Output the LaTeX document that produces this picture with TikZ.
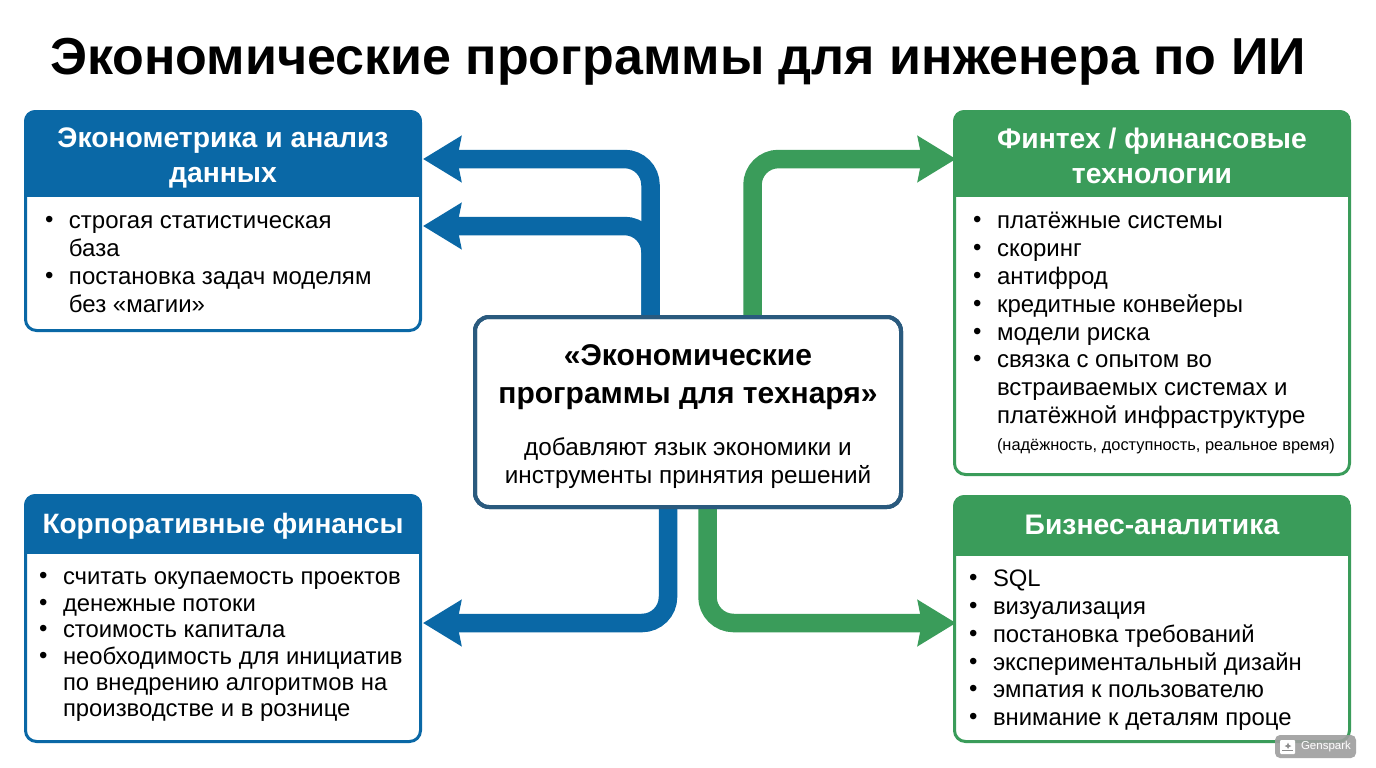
\documentclass[tikz,border=0pt]{standalone}
\usepackage{fontspec}
\setmainfont{Liberation Sans}
\usetikzlibrary{arrows.meta}
\definecolor{bluec}{HTML}{0A68A6}
\definecolor{greenc}{HTML}{3A9C5A}
\definecolor{darkc}{HTML}{2A5A7E}
\newcommand{\fs}[2]{\fontsize{#1}{#2}\selectfont}
\newcommand{\bl}[1]{\makebox[24pt][l]{\raisebox{1pt}{\fontsize{24}{24}\selectfont•}}#1}
\newcommand{\ct}[1]{\hspace*{24pt}#1}
\newcommand{\headfill}[5]{\begin{scope}\clip[rounded corners=11pt] (#2,#3) rectangle (#4,#5+40);\fill[#1] (#2,#3) rectangle (#4,#5);\end{scope}}
\tikzset{
 x=1pt,y=-1pt,
 every node/.style={outer sep=0pt},
 panel/.style={draw=#1,line width=3pt,fill=white,rounded corners=11pt,anchor=north west,inner sep=0pt,minimum width=395pt},
 headtxt/.style={text=white,font=\bfseries\fs{28.3}{35},align=center,anchor=center},
 bodytxt/.style={text=black,align=left,anchor=north west,inner sep=0pt},
 conn/.style={draw=#1,line width=18.5pt,rounded corners=26pt,-{Stealth[length=38pt,width=45pt,inset=4pt]}},
}
\begin{document}
\begin{tikzpicture}
\useasboundingbox[fill=white] (0,0) rectangle (1376,768);
\node[anchor=center,text=black,font=\bfseries\fs{52}{56}] (title) at (678,62) {Экономические программы для инженера по ИИ};

% panels
\node[panel=bluec,minimum height=219pt] (ecm) at (25.5,111.5) {};
\node[panel=greenc,minimum height=363pt] (fin) at (954.5,111.5) {};
\node[panel=bluec,minimum height=246pt] (corp) at (25.5,495.5) {};
\node[panel=greenc,minimum height=245pt] (bus) at (954.5,496.5) {};

% centre
\node[draw=darkc,line width=4pt,fill=white,rounded corners=14pt,minimum width=426pt,minimum height=190pt,anchor=north west,inner sep=0pt] (cen) at (475,317) {};

% connectors
\coordinate (a1) at (650.5,159);
\coordinate (a2) at (650.5,226);
\coordinate (a3) at (668,623);
\coordinate (a4) at (707.5,623);
\coordinate (a5) at (752.5,159);
\draw[conn=bluec,shorten >=2.5pt] (cen.north -| a1) -- (a1) -- (ecm.east |- a1);
\draw[conn=bluec,shorten >=2.5pt] (cen.north -| a2) -- (a2) -- (ecm.east |- a2);
\draw[conn=bluec,shorten >=2.5pt] (cen.south -| a3) -- (a3) -- (corp.east |- a3);
\draw[conn=greenc,shorten >=-1.5pt] (cen.south -| a4) -- (a4) -- (bus.west |- a4);
\draw[conn=greenc,shorten >=-1.5pt] (cen.north -| a5) -- (a5) -- (fin.west |- a5);
\draw[draw=darkc,line width=4pt,rounded corners=14pt] (cen.north west) rectangle (cen.south east);

% headers
\headfill{bluec}{24}{110}{422}{197}
\headfill{greenc}{953}{110}{1351}{197}
\headfill{bluec}{24}{494}{422}{554}
\headfill{greenc}{953}{495}{1351}{556}

\node[headtxt] (ecmh) at (223,158) {Эконометрика и анализ\\данных};
\node[headtxt] (finh) at (1152,156) {Финтех / финансовые\\технологии};
\node[headtxt,font=\bfseries\fs{28}{35}] (corph) at (223,526) {Корпоративные финансы};
\node[headtxt] (bush) at (1152,525) {Бизнес-аналитика};

% body text
\node[bodytxt,font=\fs{24}{28}] (ecmb) at (45,216) {\bl{строгая статистическая}\\\ct{база}\\\bl{постановка задач моделям}\\\ct{без «магии»}};
\node[bodytxt,font=\fs{24}{27.9}] (finb) at (973,212) {\bl{платёжные системы}\\\bl{скоринг}\\\bl{антифрод}\\\bl{кредитные конвейеры}\\\bl{модели риска}\\\bl{связка с опытом во}\\\ct{встраиваемых системах и}\\\ct{платёжной инфраструктуре}};
\node[bodytxt,font=\fs{16.4}{20}] (finn) at (997,439) {(надёжность, доступность, реальное время)};
\node[bodytxt,font=\fs{23.85}{26.4}] (corpb) at (39,572) {\bl{считать окупаемость проектов}\\\bl{денежные потоки}\\\bl{стоимость капитала}\\\bl{необходимость для инициатив}\\\ct{по внедрению алгоритмов на}\\\ct{производстве и в рознице}};
\node[bodytxt,font=\fs{23.85}{27.8}] (busb) at (969,570) {\bl{SQL}\\\bl{визуализация}\\\bl{постановка требований}\\\bl{экспериментальный дизайн}\\\bl{эмпатия к пользователю}\\\bl{внимание к деталям проце}};

% centre text
\node[anchor=center,align=center,font=\bfseries\fs{30}{38}] (cent) at (688,377) {«Экономические\\программы для технаря»};
\node[anchor=center,align=center,font=\fs{24.3}{28}] (cens) at (688,463) {добавляют язык экономики и\\инструменты принятия решений};

% watermark
\fill[fill=black!38,fill opacity=.9,rounded corners=5pt] (1275,735) rectangle (1356,758);
\fill[white,rounded corners=1pt] (1280,740) rectangle (1295,754);
\fill[black!45] (1282,750) rectangle (1293,751);
\fill[black!45] (1288,742.5) -- (1289,745) -- (1291.5,746) -- (1289,747) -- (1288,749) -- (1287,747) -- (1284.5,746) -- (1287,745) -- cycle;
\node[anchor=west,inner sep=0pt,text=white,font=\fs{11.5}{12}] (wm) at (1301,747) {Genspark};
\end{tikzpicture}
\end{document}
